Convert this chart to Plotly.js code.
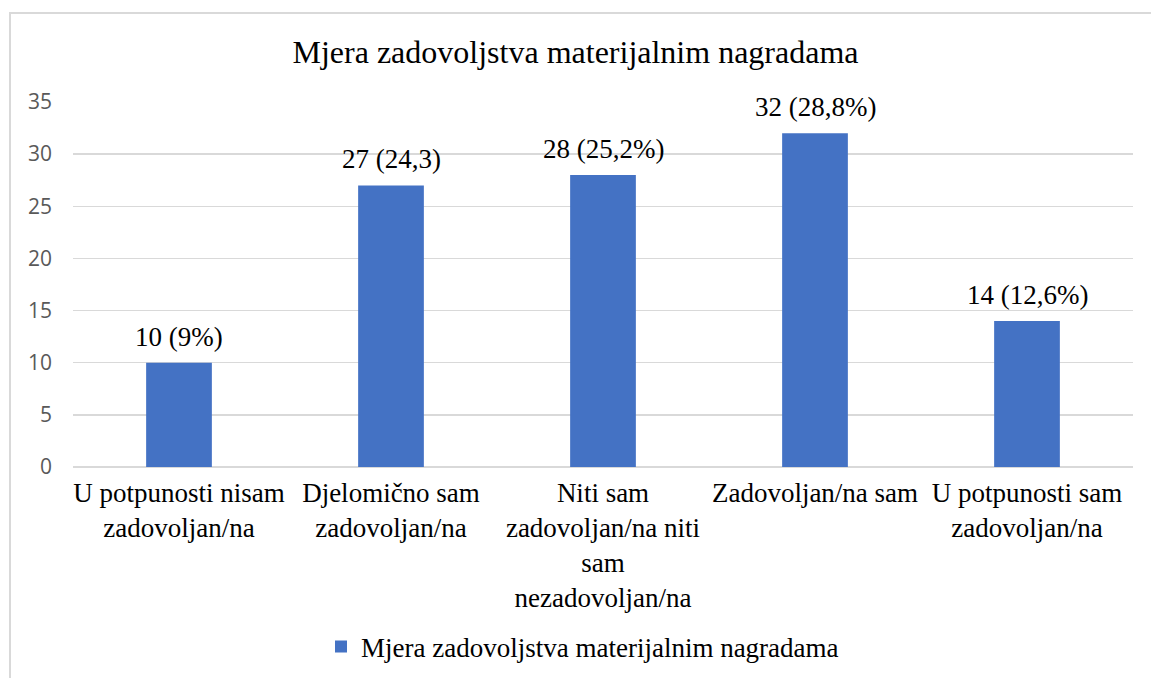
<!DOCTYPE html>
<html>
<head>
<meta charset="utf-8">
<script src="https://cdn.plot.ly/plotly-3.0.1.min.js"></script>
<style>
  html, body { margin: 0; padding: 0; background: #fff; overflow: hidden; }
  #frame { position: absolute; left: 9px; top: 12px; width: 1300px; height: 800px; border: 2px solid #d9d9d9; box-sizing: border-box; pointer-events: none; z-index: 5; }
  #chart { position: absolute; left: 0; top: 0; width: 1151px; height: 678px; }
</style>
</head>
<body>
<div id="chart"></div>
<div id="frame"></div>
<script>
const categories = [
  "U potpunosti nisam<br>zadovoljan/na",
  "Djelomično sam<br>zadovoljan/na",
  "Niti sam<br>zadovoljan/na niti<br>sam<br>nezadovoljan/na",
  "Zadovoljan/na sam",
  "U potpunosti sam<br>zadovoljan/na"
];
const values = [10, 27, 28, 32, 14];
const valueLabels = ["10 (9%)", "27 (24,3)", "28 (25,2%)", "32 (28,8%)", "14 (12,6%)"];
const seriesName = "Mjera zadovoljstva materijalnim nagradama";
const chartTitle = "Mjera zadovoljstva materijalnim nagradama";
const yTicks = [0, 5, 10, 15, 20, 25, 30, 35];

const serif = "Liberation Serif, Times New Roman, serif";

const trace = {
  type: "bar",
  x: categories,
  y: values,
  name: seriesName,
  marker: { color: "#4472C4" },
  showlegend: true,
  hoverinfo: "none"
};

const annotations = categories.map((c, i) => ({
  x: c, y: values[i], xref: "x", yref: "y",
  text: valueLabels[i], showarrow: false,
  yanchor: "bottom", yshift: 9,
  font: { family: serif, size: 27, color: "#000" }
}));

const layout = {
  width: 1151, height: 678,
  margin: { l: 73, r: 18, t: 102, b: 211 },
  paper_bgcolor: "#fff", plot_bgcolor: "#fff",
  title: {
    text: chartTitle,
    font: { family: serif, size: 32, color: "#000" },
    x: 0.5, xanchor: "center",
    y: 1 - 52 / 678, yanchor: "middle", yref: "container"
  },
  bargap: 0.69,
  xaxis: {
    type: "category",
    tickfont: { family: serif, size: 27, color: "#000" },
    showgrid: false, zeroline: false, ticks: "", showline: false,
    tickangle: 0, automargin: false, ticklabelstandoff: 7
  },
  yaxis: {
    range: [0, 35],
    tickvals: yTicks,
    ticktext: yTicks.map(String),
    tickfont: { family: "Open Sans, Segoe UI, sans-serif", size: 21, color: "#595959" },
    showgrid: true, gridcolor: "#d9d9d9", gridwidth: 1.5,
    zeroline: true, zerolinecolor: "#d9d9d9", zerolinewidth: 1.5,
    showline: false, ticks: "", ticklabelstandoff: 20, automargin: false
  },
  legend: {
    orientation: "h",
    x: 0.5 + 7 / 1151, xanchor: "center", xref: "container",
    y: 1 - 647 / 678, yanchor: "middle", yref: "container",
    font: { family: serif, size: 27, color: "#000" },
    itemwidth: 30
  },
  annotations: annotations
};

Plotly.newPlot("chart", [trace], layout, { displayModeBar: false, staticPlot: true });
</script>
</body>
</html>
